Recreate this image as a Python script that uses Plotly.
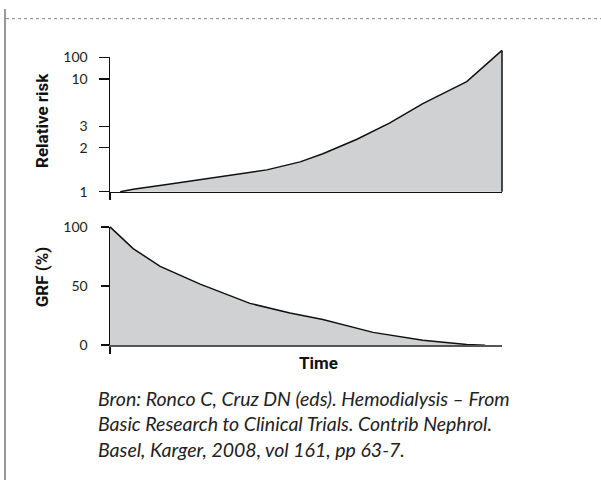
import numpy as np
import plotly.graph_objects as go

# ---------------- data ----------------
time_risk = [2.6, 5.9, 14.5, 23.0, 31.4, 40.0, 48.5, 54.3, 63.0, 71.4, 79.8, 91.0, 100.0]
relative_risk = [1.0, 1.04, 1.12, 1.21, 1.31, 1.41, 1.60, 1.82, 2.35, 3.29, 5.37, 9.4, 205.0]

time_grf = [0.0, 5.9, 12.8, 23.0, 35.7, 45.9, 54.3, 67.1, 79.8, 91.0, 95.7]
grf_pct = [100.0, 81.6, 66.6, 51.6, 35.3, 27.2, 21.7, 10.8, 4.1, 0.5, 0.0]

risk_ticks = [1, 2, 3, 10, 100]
risk_tick_labels = ["1", "2", "3", "10", "100"]
grf_ticks = [0, 50, 100]
grf_tick_labels = ["0", "50", "100"]

citation = ("Bron: Ronco C, Cruz DN (eds). Hemodialysis – From<br>"
            "Basic Research to Clinical Trials. Contrib Nephrol.<br>"
            "Basel, Karger, 2008, vol 161, pp 63-7.")

# ---------------- the chart's (non-uniform) relative-risk scale ----------------
RISK_AXIS_UNITS = [0.0, 45.6, 67.6, 116.6, 139.3]
LOG_TICKS = np.log10(risk_ticks)


def risk_scale(v):
    lv = np.log10(np.asarray(v, dtype=float))
    out = np.interp(lv, LOG_TICKS, RISK_AXIS_UNITS)
    slope = (RISK_AXIS_UNITS[-1] - RISK_AXIS_UNITS[-2]) / (LOG_TICKS[-1] - LOG_TICKS[-2])
    above = lv > LOG_TICKS[-1]
    out[above] = RISK_AXIS_UNITS[-1] + (lv[above] - LOG_TICKS[-1]) * slope
    return out


# ---------------- layout geometry (pixels) ----------------
W, H = 601, 488
X0, X1 = 110, 502
TOP_BASE, TOP_AXTOP = 189.3, 50.0
BOT_BASE, BOT_AXTOP = 348.3, 225.7
PAD = 8


def px_x(p):
    return p / W


def px_y(p):
    return 1 - p / H


FILL = "#d0d1d3"
INK = "#111111"
FONT = "Lato"

fig = go.Figure()

ry = risk_scale(relative_risk)
fig.add_trace(go.Scatter(x=time_risk, y=ry, mode="lines", fill="tozeroy",
                         fillcolor=FILL, line=dict(color=INK, width=1.5),
                         xaxis="x", yaxis="y", showlegend=False, hoverinfo="skip"))
fig.add_trace(go.Scatter(x=[time_risk[-1], time_risk[-1]],
                         y=risk_scale([relative_risk[-1], risk_ticks[0]]),
                         mode="lines", line=dict(color=INK, width=1.5),
                         xaxis="x", yaxis="y", showlegend=False, hoverinfo="skip"))
fig.add_trace(go.Scatter(x=time_grf, y=grf_pct, mode="lines", fill="tozeroy",
                         fillcolor=FILL, line=dict(color=INK, width=1.5),
                         xaxis="x2", yaxis="y2", showlegend=False, hoverinfo="skip"))
# empty traces so the display-axis subplots are created
fig.add_trace(go.Scatter(x=[None], y=[None], mode="lines", xaxis="x3", yaxis="y3",
                         showlegend=False, hoverinfo="skip"))
fig.add_trace(go.Scatter(x=[None], y=[None], mode="lines", xaxis="x4", yaxis="y4",
                         showlegend=False, hoverinfo="skip"))

tspan = 100.0 / (X1 - X0)
top_units_per_px = 1.0
bot_units_per_px = 100.0 / (BOT_BASE - BOT_AXTOP)

hidden = dict(visible=False, showgrid=False, zeroline=False)
x_data = dict(domain=[px_x(X0 - PAD), px_x(X1 + PAD)],
              range=[-PAD * tspan, 100 + PAD * tspan], **hidden)

fig.update_layout(
    width=W, height=H,
    margin=dict(l=0, r=0, t=0, b=0),
    paper_bgcolor="white", plot_bgcolor="rgba(0,0,0,0)",
    xaxis=dict(anchor="y", **x_data),
    yaxis=dict(anchor="x", domain=[px_y(TOP_BASE + PAD), px_y(32)],
               range=[-PAD * top_units_per_px, (TOP_BASE - 32) * top_units_per_px], **hidden),
    xaxis2=dict(anchor="y2", **x_data),
    yaxis2=dict(anchor="x2", domain=[px_y(BOT_BASE + PAD), px_y(BOT_AXTOP - PAD)],
                range=[-PAD * bot_units_per_px, 100 + PAD * bot_units_per_px], **hidden),
)

tickfont = dict(family=FONT, size=14, color="#222")
x_disp = dict(domain=[px_x(X0), px_x(X1)], range=[0, 100], showgrid=False, zeroline=False,
              showline=True, linewidth=1.5, ticks="outside", tickvals=[0], ticklen=7,
              tickwidth=1.5, tickcolor=INK, showticklabels=False)
fig.update_layout(
    xaxis3=dict(anchor="y3", linecolor=INK, **x_disp),
    yaxis3=dict(anchor="x3", domain=[px_y(TOP_BASE), px_y(TOP_AXTOP)],
                range=[0, RISK_AXIS_UNITS[-1]], showgrid=False, zeroline=False,
                showline=True, linecolor=INK, linewidth=1.5, ticks="outside",
                tickvals=list(risk_scale(risk_ticks)), ticktext=risk_tick_labels,
                ticklen=10, tickwidth=1.5, tickcolor=INK, tickfont=tickfont,
                ticklabelstandoff=8),
    xaxis4=dict(anchor="y4", linecolor="#555", **x_disp),
    yaxis4=dict(anchor="x4", domain=[px_y(BOT_BASE), px_y(BOT_AXTOP)],
                range=[0, 100], showgrid=False, zeroline=False,
                showline=True, linecolor=INK, linewidth=1.5, ticks="outside",
                tickvals=grf_ticks, ticktext=grf_tick_labels,
                ticklen=8, tickwidth=1.5, tickcolor=INK, tickfont=tickfont,
                ticklabelstandoff=10),
)

title_font = dict(family="Roboto", size=17, color="#111")
fig.add_annotation(text="<b>Relative risk</b>", xref="paper", yref="paper",
                   x=px_x(42), y=px_y(115), textangle=-90, showarrow=False,
                   font=title_font, xanchor="center", yanchor="middle")
fig.add_annotation(text="<b>GRF (%)</b>", xref="paper", yref="paper",
                   x=px_x(42), y=px_y(277), textangle=-90, showarrow=False,
                   font=title_font, xanchor="center", yanchor="middle")
fig.add_annotation(text="<b>Time</b>", xref="paper", yref="paper",
                   x=px_x(318), y=px_y(367), showarrow=False,
                   font=title_font, xanchor="center", yanchor="middle")
fig.add_annotation(text="<i>" + citation + "</i>", xref="paper", yref="paper",
                   x=px_x(96), y=px_y(430), showarrow=False, align="left",
                   font=dict(family=FONT, size=19.5, color="#222"),
                   xanchor="left", yanchor="middle")

fig.add_shape(type="line", xref="paper", yref="paper", x0=px_x(5), x1=px_x(5),
              y0=0, y1=1, line=dict(color="#777", width=1.5))
fig.add_shape(type="line", xref="paper", yref="paper", x0=px_x(6), x1=1,
              y0=px_y(10), y1=px_y(10), line=dict(color="#888", width=1, dash="dot"))

fig.write_html("out.html", config={"displayModeBar": False, "staticPlot": True},
               post_script="document.body.style.margin='0px';")
